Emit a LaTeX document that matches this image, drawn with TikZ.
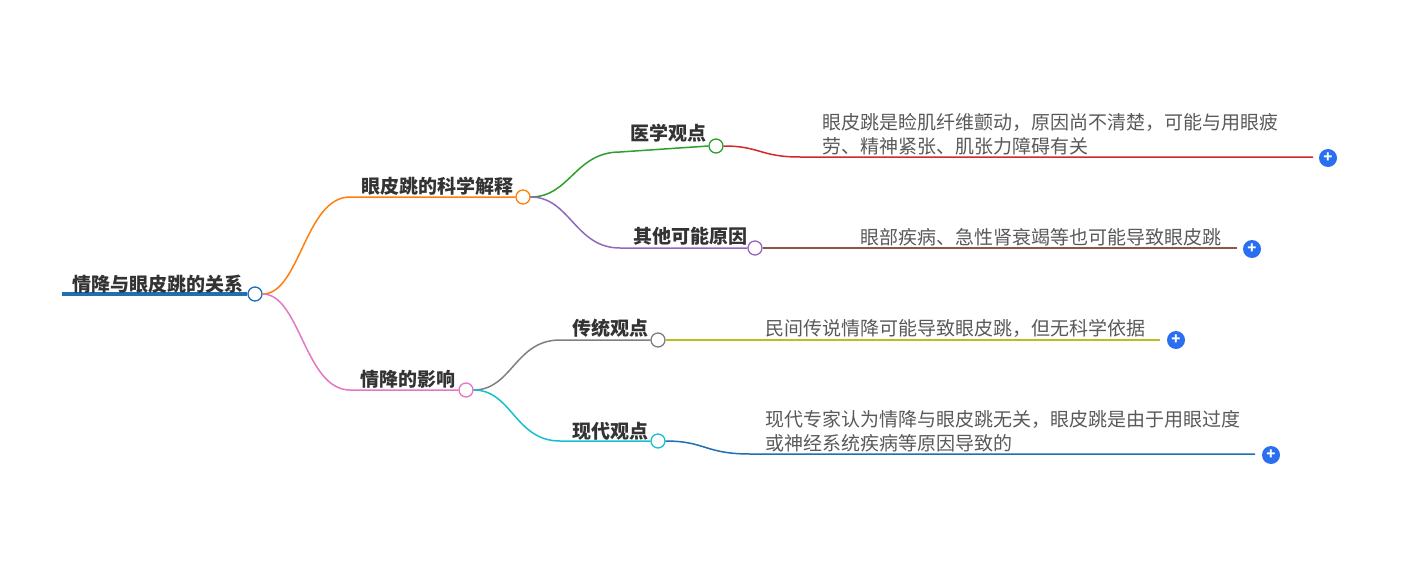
\documentclass[tikz,border=0pt]{standalone}
\usepackage{fontspec}
\setmainfont{Noto Sans CJK SC}
\begin{document}
\begin{tikzpicture}[x=1pt,y=-1pt,
  lbl/.style={font=\fontsize{19}{22}\selectfont\bfseries,text=black!80,inner sep=0},
  leaf/.style={font=\fontsize{19}{24}\selectfont,text=black!65,inner sep=0,align=left,anchor=west},
  dot/.style={circle,draw,fill=white,line width=1.3pt,minimum size=14pt,inner sep=0},
  plus/.style={circle,minimum size=18pt,inner sep=0,text=white,font=\bfseries\fontsize{15}{15}\selectfont},
  ln/.style={line width=1.5pt}]
\useasboundingbox (0,0) rectangle (1402,567);
\definecolor{cRoot}{HTML}{1F6FB2}
\definecolor{cOr}{HTML}{FF7F0E}
\definecolor{cGr}{HTML}{2CA02C}
\definecolor{cRd}{HTML}{D62728}
\definecolor{cPu}{HTML}{9467BD}
\definecolor{cBr}{HTML}{8C564B}
\definecolor{cPk}{HTML}{E377C2}
\definecolor{cGy}{HTML}{7F7F7F}
\definecolor{cOl}{HTML}{BCBD22}
\definecolor{cCy}{HTML}{17BECF}
\definecolor{cPlus}{HTML}{2A6FF0}
% root
\coordinate (r0) at (62,294);
\node[dot,draw=cRoot] (r) at (255,294) {};
\draw[line width=4pt,cRoot] (r0) -- (r.west);
\node[lbl,anchor=base] at (158,291) {情降与眼皮跳的关系};
% branch 1
\coordinate (b1s) at (350,197);
\node[dot,draw=cOr] (b1) at (523,197) {};
\draw[ln,cOr] (r) .. controls (300,294) and (305,197) .. (b1s) -- (b1.west);
\node[lbl,anchor=base] at (437,193) {眼皮跳的科学解释};
% 1a
\coordinate (a1s) at (620,152);
\node[dot,draw=cGr] (a1) at (716,146) {};
\draw[ln,cGr] (b1) .. controls (570,197) and (575,152) .. (a1s) -- (a1.west);
\node[lbl,anchor=base] at (668,141) {医学观点};
\coordinate (l1s) at (800,157);
\coordinate (l1e) at (1313,157);
\draw[ln,cRd] (a1) .. controls (760,146) and (760,157) .. (l1s) -- (l1e);
\node[leaf] at (822,134) {眼皮跳是睑肌纤维颤动，原因尚不清楚，可能与用眼疲\\劳、精神紧张、肌张力障碍有关};
\node[plus,fill=cPlus] (p1) at (1328,158) {+};
% 1b
\coordinate (a2s) at (620,248);
\node[dot,draw=cPu] (a2) at (755,248) {};
\draw[ln,cPu] (b1) .. controls (570,197) and (575,248) .. (a2s) -- (a2.west);
\node[lbl,anchor=base] at (690,243) {其他可能原因};
\coordinate (l2e) at (1237,248);
\draw[ln,cBr] (a2) -- (l2e);
\node[leaf] at (860,237) {眼部疾病、急性肾衰竭等也可能导致眼皮跳};
\node[plus,fill=cPlus] (p2) at (1252,249) {+};
% branch 2
\coordinate (b2s) at (350,390);
\node[dot,draw=cPk] (b2) at (466,390) {};
\draw[ln,cPk] (r) .. controls (300,294) and (305,390) .. (b2s) -- (b2.west);
\node[lbl,anchor=base] at (408,386) {情降的影响};
% 2a
\coordinate (c1s) at (560,340);
\node[dot,draw=cGy] (c1) at (658,340) {};
\draw[ln,cGy] (b2) .. controls (512,390) and (515,340) .. (c1s) -- (c1.west);
\node[lbl,anchor=base] at (610,335) {传统观点};
\coordinate (l3e) at (1160,340);
\draw[ln,cOl] (c1) -- (l3e);
\node[leaf] at (765,328) {民间传说情降可能导致眼皮跳，但无科学依据};
\node[plus,fill=cPlus] (p3) at (1176,340) {+};
% 2b
\coordinate (c2s) at (560,441);
\node[dot,draw=cCy] (c2) at (658,441) {};
\draw[ln,cCy] (b2) .. controls (512,390) and (515,441) .. (c2s) -- (c2.west);
\node[lbl,anchor=base] at (610,438) {现代观点};
\coordinate (l4s) at (750,454);
\coordinate (l4e) at (1255,454);
\draw[ln,cRoot] (c2) .. controls (705,441) and (705,454) .. (l4s) -- (l4e);
\node[leaf] at (765,431) {现代专家认为情降与眼皮跳无关，眼皮跳是由于用眼过度\\或神经系统疾病等原因导致的};
\node[plus,fill=cPlus] (p4) at (1271,455) {+};
\end{tikzpicture}
\end{document}
